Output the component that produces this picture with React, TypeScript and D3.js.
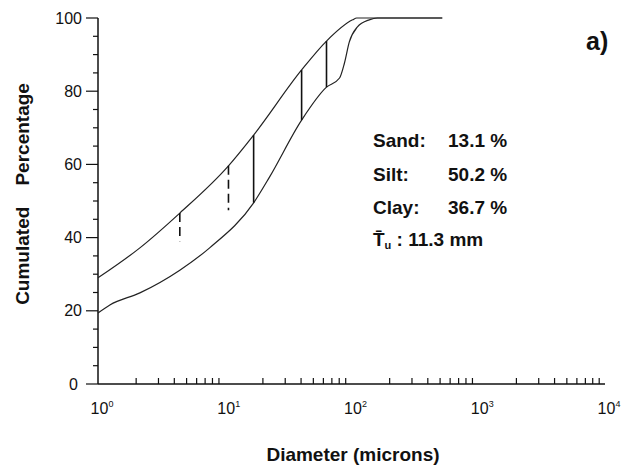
import * as React from 'react';
import * as d3 from 'd3';

// upper envelope of the grain-size curves (diameter in microns, cumulated %)
const upperDiam = [1, 2.14, 4.42, 10.7, 16.9, 40.4, 63.5, 102, 110, 520];
const upperPct = [29, 37.2, 46.7, 59.6, 68, 85.8, 93.7, 99.5, 100, 100];

// lower envelope
const lowerDiam = [1, 1.24, 2.14, 4.42, 7.6, 16.9, 22.6, 40.4, 63.5, 80.5, 88, 96, 111, 138, 160, 520];
const lowerPct = [19.4, 21.6, 24.9, 31.1, 37.2, 49.5, 56.6, 72.1, 81.1, 83.6, 87.7, 93.4, 97.5, 99.5, 100, 100];

// vertical range marks between the envelopes
const markDiam = [4.42, 10.7, 16.9, 40.4, 63.5];
const markTop = [46.7, 59.6, 68, 85.8, 93.7];
const markBottom = [39, 47.5, 49.5, 72.1, 81.1];
const markDashed = [true, true, false, false, false];

const yTicks = [0, 20, 40, 60, 80, 100];
const xDecades = [0, 1, 2, 3, 4];

const stats = [
  { label: 'Sand:', value: '13.1 %' },
  { label: 'Silt:', value: '50.2 %' },
  { label: 'Clay:', value: '36.7 %' },
];

const width = 627;
const height = 467;
const font = '"Liberation Sans", Arial, sans-serif';

export default function App() {
  const x = d3.scaleLog().domain([1, 1e4]).range([98, 605]);
  const y = d3.scaleLinear().domain([0, 100]).range([384, 18]);

  const line = d3
    .line<[number, number]>()
    .x((d) => x(d[0]))
    .y((d) => y(d[1]))
    .curve(d3.curveMonotoneX);

  const upper = upperDiam.map((d, i) => [d, upperPct[i]] as [number, number]);
  const lower = lowerDiam.map((d, i) => [d, lowerPct[i]] as [number, number]);

  const minorY = d3.range(0, 101, 5).filter((v) => v % 20 !== 0);
  const minorX: number[] = [];
  for (let e = 0; e < 4; e++) for (let k = 2; k <= 9; k++) minorX.push(k * Math.pow(10, e));

  const statY = [147, 181, 214];

  return (
    <svg width={width} height={height} style={{ position: 'absolute', left: 0, top: 0, background: '#fff' }} fontFamily={font}>
      {/* y axis */}
      <line x1={x(1)} x2={x(1)} y1={y(100)} y2={y(0)} stroke="#111" strokeWidth={1.5} />
      {yTicks.map((t) => (
        <g key={t}>
          <line x1={x(1) - 12} x2={x(1)} y1={y(t)} y2={y(t)} stroke="#111" strokeWidth={1.2} />
          <text x={t === 0 ? 78 : 82} y={y(t)} dy="0.35em" textAnchor="end" fontSize={16} fill="#111">
            {t}
          </text>
        </g>
      ))}
      {minorY.map((t) => (
        <line key={t} x1={x(1) - 5} x2={x(1)} y1={y(t)} y2={y(t)} stroke="#111" strokeWidth={1.2} />
      ))}

      {/* x axis */}
      <line x1={x(1)} x2={x(1e4)} y1={y(0)} y2={y(0)} stroke="#111" strokeWidth={1.5} />
      {minorX.map((t) => (
        <line key={t} x1={x(t)} x2={x(t)} y1={y(0)} y2={y(0) - 6} stroke="#111" strokeWidth={1.2} />
      ))}
      {xDecades.map((e) => (
        <text key={e} x={x(Math.pow(10, e)) + 4} y={414} textAnchor="middle" fontSize={16} fill="#111">
          10
          <tspan fontSize={9} dy={-7}>
            {e}
          </tspan>
        </text>
      ))}

      {/* curves */}
      <path d={line(upper) || ''} fill="none" stroke="#222" strokeWidth={1.2} />
      <path d={line(lower) || ''} fill="none" stroke="#222" strokeWidth={1.2} />
      {markDiam.map((d, i) => (
        <line
          key={d}
          x1={x(d)}
          x2={x(d)}
          y1={y(markTop[i])}
          y2={y(markBottom[i])}
          stroke="#111"
          strokeWidth={1.6}
          strokeDasharray={markDashed[i] ? '9 5' : undefined}
        />
      ))}

      {/* annotations */}
      {stats.map((s, i) => (
        <g key={s.label} fontSize={19} fontWeight="bold" fill="#111">
          <text x={373} y={statY[i]}>{s.label}</text>
          <text x={448} y={statY[i]}>{s.value}</text>
        </g>
      ))}
      <text x={373} y={246} fontSize={19} fontWeight="bold" fill="#111">
        T&#x0304;
        <tspan fontSize={11} dy={3}>u</tspan>
        <tspan dy={-3}> : 11.3 mm</tspan>
      </text>
      <text x={586} y={50} fontSize={25} fontWeight="bold" fill="#111">
        a)
      </text>

      {/* axis titles */}
      <text x={353} y={461} textAnchor="middle" fontSize={19} fontWeight="bold" fill="#111">
        Diameter (microns)
      </text>
      <text
        transform={`translate(29,194) rotate(-90)`}
        textAnchor="middle"
        fontSize={19}
        fontWeight="bold"
        fill="#111"
        style={{ whiteSpace: 'pre' }}
      >
        {'Cumulated    Percentage'}
      </text>
    </svg>
  );
}
